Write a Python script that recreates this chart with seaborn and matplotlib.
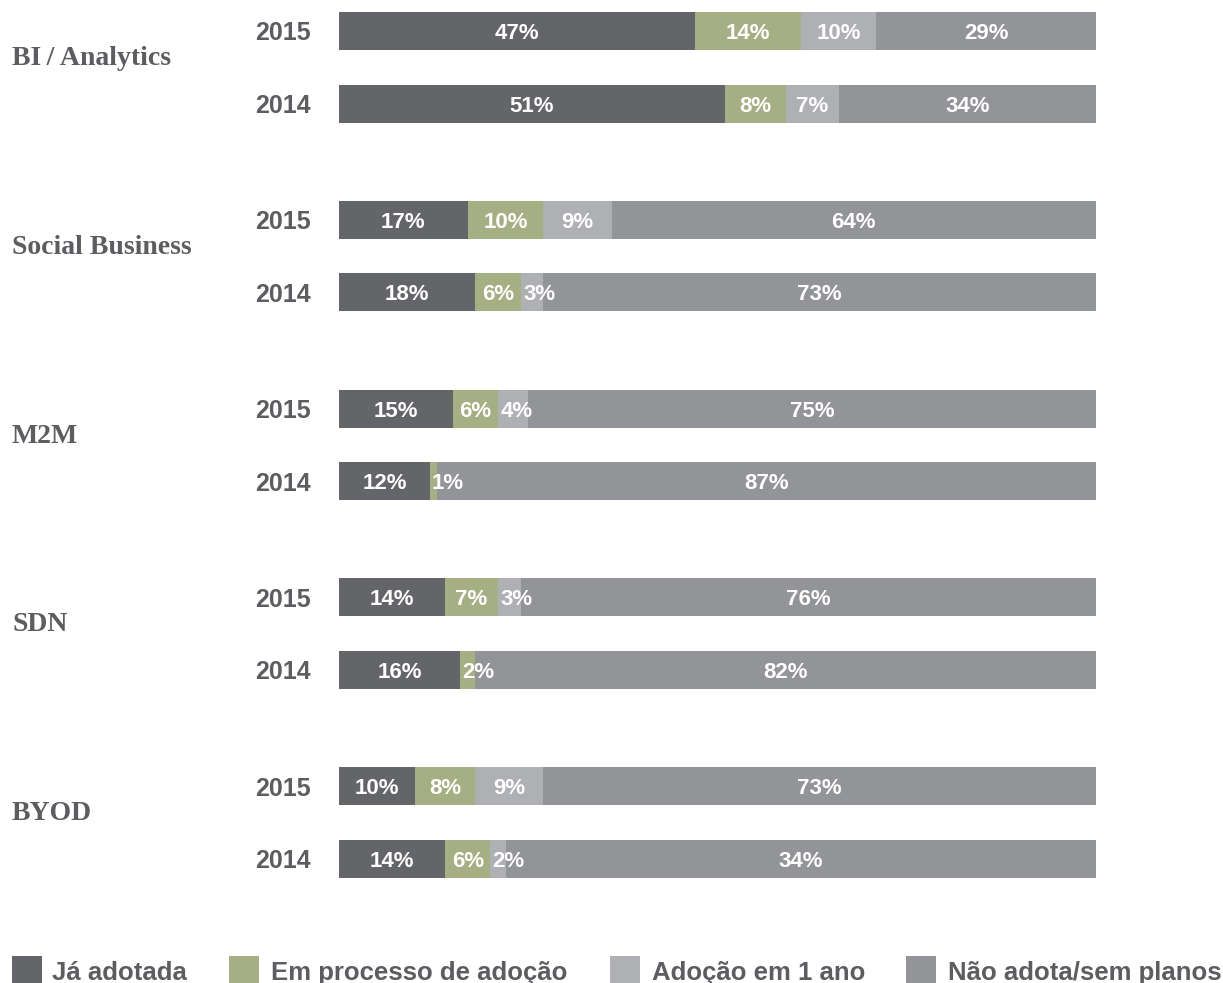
import matplotlib
matplotlib.use("Agg")
import matplotlib.pyplot as plt
import matplotlib.transforms as mtransforms
from matplotlib.patches import Rectangle
import numpy as np
import pandas as pd
import seaborn as sns

# ---- data -------------------------------------------------------------
groups = ["BI\u2009/\u2009Analytics", "Social Business", "M2M", "SDN", "BYOD"]
years = ["2015", "2014"]

# one value per bar, in order: group by group, 2015 then 2014
ja_adotada = [47, 51, 17, 18, 15, 12, 14, 16, 10, 14]
em_processo = [14, 8, 10, 6, 6, 1, 7, 2, 8, 6]
adocao_1_ano = [10, 7, 9, 3, 4, 0, 3, 0, 9, 2]
nao_adota = [29, 34, 64, 73, 75, 87, 76, 82, 73, 78]
# printed text of the last segment of each bar
nao_adota_labels = ["29%", "34%", "64%", "73%", "75%", "87%", "76%", "82%", "73%", "34%"]

series_names = ["Já adotada", "Em processo de adoção", "Adoção em 1 ano", "Não adota/sem planos"]
colors = ["#646569", "#a6ae83", "#afb0b4", "#939498"]
text_gray = "#5c5d60"

# ---- layout helpers -----------------------------------------------------
W, H = 1223, 983
group_step = 2.6          # distance between groups, in bar-steps
px_per_unit = 72.6        # pixels per bar-step
first_center_px = 31

n_groups = len(groups)
ypos = np.array([g * group_step + k for g in range(n_groups) for k in range(len(years))])

df = pd.DataFrame({
    "y": ypos,
    "ja": ja_adotada,
    "proc": em_processo,
    "ano": adocao_1_ano,
    "nao": nao_adota,
})
df["c1"] = df["ja"]
df["c2"] = df["c1"] + df["proc"]
df["c3"] = df["c2"] + df["ano"]
df["c4"] = df["c3"] + df["nao"]

sns.set_theme(style="white")
plt.rcParams["font.family"] = ["Liberation Sans", "DejaVu Sans"]

fig = plt.figure(figsize=(W / 100, H / 100), dpi=100)
ax = fig.add_axes([339 / W, 0, 757 / W, 1])

# stacked bars: draw cumulative totals from the outermost layer inwards
bar_h = 38 / px_per_unit
for col, color in zip(["c4", "c3", "c2", "c1"], colors[::-1]):
    sns.barplot(data=df, x=col, y="y", orient="h", native_scale=True,
                width=bar_h, color=color, errorbar=None, ax=ax,
                linewidth=0, saturation=1)

ax.set_xlim(0, 100)
ax.set_ylim((H - first_center_px) / px_per_unit, -first_center_px / px_per_unit)
ax.axis("off")

# ---- segment labels ---------------------------------------------------------
seg_cols = ["ja", "proc", "ano", "nao"]
for i, row in df.iterrows():
    left = 0
    for j, col in enumerate(seg_cols):
        v = row[col]
        if v > 0:
            txt = nao_adota_labels[i] if col == "nao" else f"{int(v)}%"
            if v < 5:
                ax.text(left + 0.3, row["y"], txt, ha="left", va="center_baseline",
                        color="white", fontsize=16, fontweight="bold")
            else:
                ax.text(left + v / 2, row["y"], txt, ha="center", va="center_baseline",
                        color="white", fontsize=16, fontweight="bold")
        left += v

# ---- year and group labels ---------------------------------------------------
trans = mtransforms.blended_transform_factory(fig.transFigure, ax.transData)
for g, name in enumerate(groups):
    for k, yr in enumerate(years):
        ax.text(311 / W, g * group_step + k, yr, transform=trans, ha="right",
                va="center_baseline", color=text_gray, fontsize=18,
                fontweight="bold")
    ax.text(12 / W, g * group_step + 0.5 - 0.03, name, transform=trans,
            ha="left", va="baseline", color=text_gray, fontsize=20,
            fontweight="bold", family=["Liberation Serif", "DejaVu Serif"])

# ---- legend -----------------------------------------------------------------
sq_x = [12, 229, 610, 906]
tx_x = [52, 271, 652, 948]
for name, color, sx, tx in zip(series_names, colors, sq_x, tx_x):
    fig.patches.append(Rectangle((sx / W, (H - 986) / H), 30 / W, 30 / H,
                                 transform=fig.transFigure, facecolor=color,
                                 edgecolor="none"))
    fig.text(tx / W, 3 / H, name, ha="left", va="baseline", color=text_gray,
             fontsize=18.5, fontweight="bold")

fig.savefig("out.png", dpi=100, facecolor="white")
